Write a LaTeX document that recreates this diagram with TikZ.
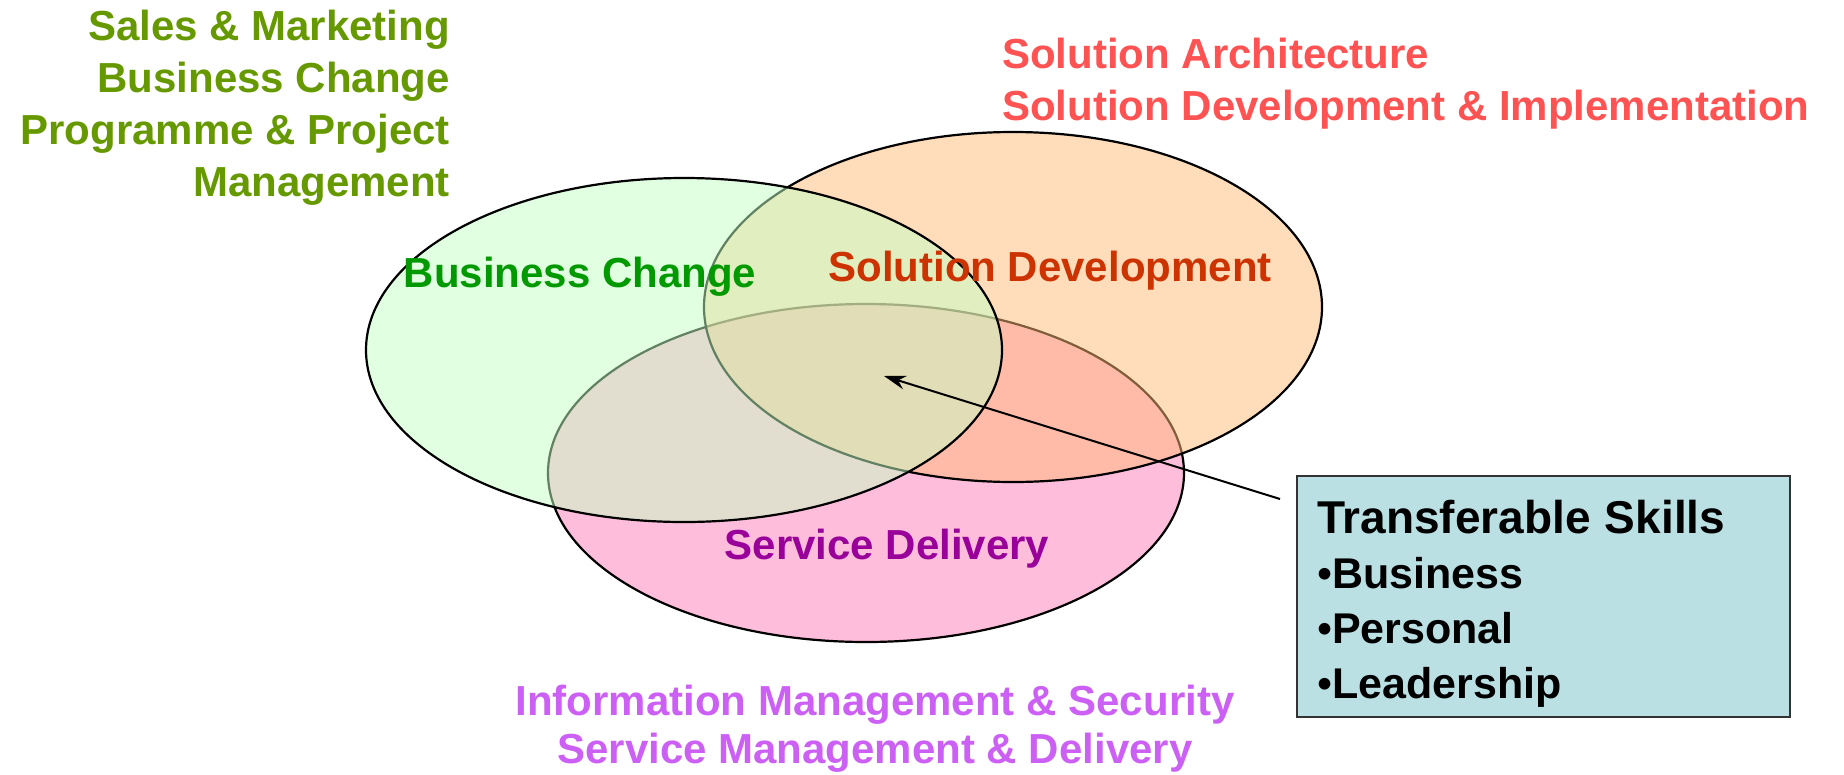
\documentclass[tikz,border=0pt]{standalone}
\usepackage{fontspec}
\setmainfont{Liberation Sans}
\usetikzlibrary{arrows.meta,positioning}
\usepackage{xcolor}
\definecolor{roleolive}{RGB}{102,153,0}
\definecolor{rolered}{RGB}{255,82,82}
\definecolor{rolepurple}{RGB}{204,96,245}
\definecolor{bcgreen}{RGB}{0,153,0}
\definecolor{sdred}{RGB}{204,51,0}
\definecolor{svpurple}{RGB}{153,0,153}
\definecolor{bcfill}{RGB}{196,255,196}
\definecolor{sdfill}{RGB}{255,186,118}
\definecolor{svfill}{RGB}{255,124,186}
\definecolor{skillfill}{RGB}{186,224,228}

\begin{document}
\begin{tikzpicture}[
				x=1pt,y=-1pt,
				area/.style={draw=black,line width=2.2pt,fill opacity=0.5},
				areaname/.style={inner sep=0pt,font=\bfseries\fontsize{42}{50}\selectfont},
				roles/.style={inner sep=0pt,font=\bfseries\fontsize{42}{52}\selectfont},
				skillbox/.style={draw=black!80,line width=2.2pt,fill=skillfill,minimum width=493pt,minimum height=241pt,text width=453pt,inner xsep=20pt,align=left,font=\bfseries\fontsize{43}{55}\selectfont},
				pointer/.style={-{Stealth[length=22pt,width=14pt]},line width=2pt}
				]
				
				\useasboundingbox (0,0) rectangle (1844,774);
				
				\path[area,fill=svfill] (866,473) ellipse [x radius=318,y radius=169];
				\path[area,fill=sdfill] (1013,307) ellipse [x radius=309,y radius=175];
				\path[area,fill=bcfill] (684,350) ellipse [x radius=318,y radius=172];
				
				\node[areaname,text=bcgreen] (bizchange) at (580,277) {Business Change};
				\node[areaname,text=sdred] (soldev) at (1050,271) {Solution Development};
				\node[areaname,text=svpurple] (servdel) at (887,549) {Service Delivery};
				
				\node[roles,text=roleolive,align=right,anchor=east] (bizroles) at (450,108) {Sales \& Marketing\\Business Change\\Programme \& Project\\Management};
				\node[roles,text=rolered,align=left,anchor=west] (solroles) at (1002,84) {Solution Architecture\\Solution Development \& Implementation};
				\node[roles,text=rolepurple,align=center,font=\bfseries\fontsize{42}{48}\selectfont] (servroles) at (875,729) {Information Management \& Security\\Service Management \& Delivery};
				
				\node[skillbox,anchor=north west] (skills) at (1296,475) {\rule{0pt}{48pt}{\fontsize{46}{56}\selectfont Transferable Skills}\\{\mdseries•}Business\\{\mdseries•}Personal\\{\mdseries•}Leadership};
				
				\coordinate (core) at (884,376);
				\draw[pointer] ([xshift=-16pt,yshift=-24pt]skills.north west) -- (core);
				
\end{tikzpicture}
\end{document}
